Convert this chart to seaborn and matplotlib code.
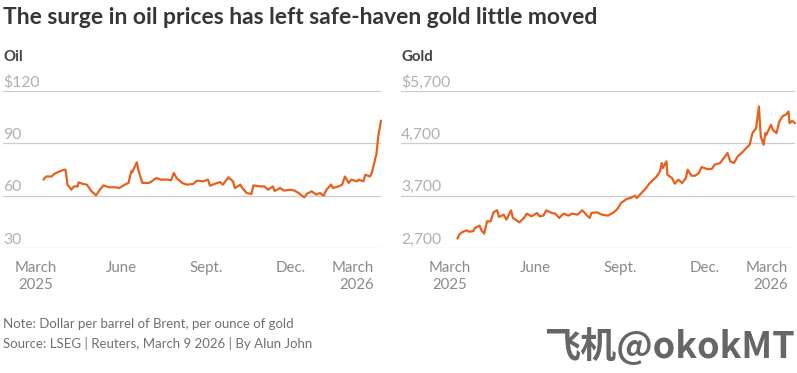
import matplotlib
matplotlib.use("Agg")
import matplotlib.pyplot as plt
import seaborn as sns
import pandas as pd

# ---------------- data ----------------
oil_dates = ["2025-03-09","2025-03-12","2025-03-18","2025-03-21","2025-03-27","2025-04-01","2025-04-02",
             "2025-04-04","2025-04-07","2025-04-08","2025-04-11","2025-04-15","2025-04-16","2025-04-21",
             "2025-04-25","2025-04-30","2025-05-05","2025-05-09","2025-05-13","2025-05-19","2025-05-26",
             "2025-05-30","2025-06-05","2025-06-09","2025-06-12","2025-06-13","2025-06-18","2025-06-20",
             "2025-06-24","2025-07-01","2025-07-04","2025-07-09","2025-07-14","2025-07-21","2025-07-25",
             "2025-07-28","2025-07-31","2025-08-06","2025-08-11","2025-08-18","2025-08-22","2025-08-29",
             "2025-09-03","2025-09-05","2025-09-10","2025-09-16","2025-09-19","2025-09-25","2025-09-30",
             "2025-10-02","2025-10-08","2025-10-10","2025-10-15","2025-10-20","2025-10-22","2025-10-29",
             "2025-11-03","2025-11-07","2025-11-12","2025-11-14","2025-11-20","2025-11-24","2025-12-01",
             "2025-12-05","2025-12-10","2025-12-16","2025-12-19","2025-12-24","2025-12-29","2026-01-02",
             "2026-01-06","2026-01-09","2026-01-14","2026-01-16","2026-01-22","2026-01-26","2026-01-29",
             "2026-02-02","2026-02-05","2026-02-11","2026-02-13","2026-02-18","2026-02-20","2026-02-25",
             "2026-02-27","2026-03-03","2026-03-04","2026-03-06","2026-03-09"]
oil_values = [69.2, 71.0, 71.0, 72.6, 74.0, 75.0, 74.6,
              66.3, 64.4, 63.4, 65.3, 65.3, 67.6, 66.7,
              66.3, 62.5, 60.2, 63.4, 65.9, 64.8, 64.8,
              64.4, 66.3, 67.3, 74.0, 73.4, 79.1, 74.0,
              67.3, 67.3, 68.2, 70.1, 69.2, 69.2, 68.8,
              73.0, 70.1, 67.3, 66.3, 66.7, 68.6, 68.2,
              69.2, 65.7, 66.7, 67.8, 66.3, 70.5, 68.2,
              64.4, 66.3, 64.4, 61.5, 61.0, 65.9, 65.3,
              65.3, 63.4, 65.3, 62.7, 64.4, 62.9, 63.4,
              63.0, 61.5, 59.0, 61.1, 62.5, 60.6, 61.5,
              60.0, 63.4, 66.3, 64.4, 65.3, 66.3, 71.0,
              67.3, 69.2, 68.2, 69.2, 68.2, 72.0, 71.0,
              73.0, 81.6, 83.5, 94.0, 103.0]

gold_dates = ["2025-03-09","2025-03-11","2025-03-14","2025-03-19","2025-03-21","2025-03-26","2025-03-28",
              "2025-04-02","2025-04-04","2025-04-07","2025-04-10","2025-04-14","2025-04-17","2025-04-21",
              "2025-04-23","2025-04-28","2025-05-01","2025-05-06","2025-05-08","2025-05-15","2025-05-20",
              "2025-05-23","2025-05-28","2025-06-03","2025-06-06","2025-06-10","2025-06-13","2025-06-19",
              "2025-06-23","2025-06-27","2025-07-02","2025-07-07","2025-07-11","2025-07-17","2025-07-22",
              "2025-07-28","2025-07-30","2025-08-01","2025-08-07","2025-08-12","2025-08-19","2025-08-25",
              "2025-08-29","2025-09-02","2025-09-08","2025-09-12","2025-09-17","2025-09-19","2025-09-24",
              "2025-09-29","2025-10-03","2025-10-10","2025-10-14","2025-10-16","2025-10-17","2025-10-21",
              "2025-10-22","2025-10-27","2025-10-30","2025-11-03","2025-11-07","2025-11-11","2025-11-13",
              "2025-11-17","2025-11-21","2025-11-25","2025-11-28","2025-12-04","2025-12-09","2025-12-12",
              "2025-12-18","2025-12-22","2025-12-26","2025-12-29","2026-01-02","2026-01-06","2026-01-12",
              "2026-01-16","2026-01-19","2026-01-22","2026-01-26","2026-01-29","2026-01-31","2026-02-03",
              "2026-02-05","2026-02-06","2026-02-11","2026-02-13","2026-02-17","2026-02-20","2026-02-24",
              "2026-02-27","2026-03-02","2026-03-03","2026-03-06","2026-03-09"]
gold_values = [2880, 2956, 3001, 3039, 3013, 3020, 3083,
               3128, 3039, 2975, 3210, 3210, 3382, 3420,
               3293, 3338, 3242, 3420, 3274, 3191, 3274,
               3357, 3306, 3369, 3306, 3319, 3420, 3369,
               3357, 3274, 3357, 3319, 3357, 3338, 3420,
               3306, 3274, 3369, 3382, 3338, 3319, 3382,
               3446, 3560, 3636, 3655, 3700, 3655, 3751,
               3846, 3942, 4056, 4164, 4323, 4228, 4355,
               4100, 4037, 3929, 4005, 3942, 4037, 4196,
               4081, 4081, 4132, 4247, 4209, 4209, 4291,
               4323, 4418, 4514, 4355, 4323, 4450, 4545,
               4622, 4673, 4895, 4990, 5404, 4832, 4673,
               4895, 4863, 5054, 4959, 4895, 5118, 5226,
               5245, 5308, 5086, 5130, 5086]

tick_dates = ["2025-03-01", "2025-06-01", "2025-09-01", "2025-12-01", "2026-03-01"]
tick_labels = ["March\n2025", "June", "Sept.", "Dec.", "March\n2026"]

oil_yticks = [30, 60, 90, 120]
oil_ylabels = ["30", "60", "90", "$120"]
gold_yticks = [2700, 3700, 4700, 5700]
gold_ylabels = ["2,700", "3,700", "4,700", "$5,700"]

title = "The surge in oil prices has left safe-haven gold little moved"
note = "Note: Dollar per barrel of Brent, per ounce of gold"
source = "Source: LSEG | Reuters, March 9 2026 | By Alun John"
watermark = "飞机@okokMT"

# ---------------- style ----------------
sns.set_theme(style="white")
plt.rcParams["font.family"] = ["Lato", "DejaVu Sans"]

LINE = "#e8601c"
GRID = "#cccccc"
YLAB = "#b0b0b0"
XLAB = "#8a8a8a"

W, H = 797, 373
fig = plt.figure(figsize=(W / 100, H / 100), dpi=100)
fig.patch.set_facecolor("white")

def px_axes(x0, x1, ytop, ybot):
    return fig.add_axes([x0 / W, 1 - ybot / H, (x1 - x0) / W, (ybot - ytop) / H])

oil_df = pd.DataFrame({"date": pd.to_datetime(oil_dates), "value": oil_values})
gold_df = pd.DataFrame({"date": pd.to_datetime(gold_dates), "value": gold_values})

ppd = 345 / 373.0  # pixels per day (layout)

def draw(ax, df, yticks, ylabels, x0px, ref_px):
    sns.lineplot(data=df, x="date", y="value", ax=ax, color=LINE, linewidth=1.6,
                 clip_on=False, solid_joinstyle="round")
    t0 = pd.Timestamp("2025-03-01")
    end = pd.Timestamp("2026-03-09")
    left = t0 - pd.Timedelta(days=(ref_px - x0px) / ppd)
    ax.set_xlim(left, end)
    ax.set_ylim(yticks[0], yticks[-1])
    ax.set_yticks(yticks)
    ax.set_yticklabels([])
    ax.tick_params(axis="y", length=0)
    for v in yticks:
        ax.axhline(v, color=GRID, linewidth=0.9, zorder=0)
    for v, lab in zip(yticks, ylabels):
        ax.annotate(lab, xy=(0, v), xycoords=("axes fraction", "data"),
                    xytext=(0, 3.2), textcoords="offset points",
                    ha="left", va="baseline", fontsize=11.3, color=YLAB)
    ax.set_xticks(pd.to_datetime(tick_dates))
    labs = ax.set_xticklabels(tick_labels, fontsize=10.8, color=XLAB, linespacing=1.3)
    labs[-1].set_ha("right")
    ax.tick_params(axis="x", length=0, pad=9.5)
    ax.set_xlabel("")
    ax.set_ylabel("")
    for s in ax.spines.values():
        s.set_visible(False)
    ax.set_facecolor("none")

ax1 = px_axes(3, 381, 91, 248)
draw(ax1, oil_df, oil_yticks, oil_ylabels, 3, 36)
ax2 = px_axes(401, 795, 91, 248)
draw(ax2, gold_df, gold_yticks, gold_ylabels, 401, 450)

fig.text(3 / W, 1 - 18 / H, title, fontsize=16.5, fontweight="bold", color="#363636",
         ha="left", va="center")
fig.text(3 / W, 1 - 57 / H, "Oil", fontsize=10.8, fontweight="bold", color="#444444",
         ha="left", va="center")
fig.text(401 / W, 1 - 57 / H, "Gold", fontsize=10.8, fontweight="bold", color="#444444",
         ha="left", va="center")
fig.text(3 / W, 1 - 324 / H, note, fontsize=9.5, color="#707070", ha="left", va="center")
fig.text(3 / W, 1 - 343 / H, source, fontsize=9.5, color="#707070", ha="left", va="center")
fig.text(795 / W, 1 - 347 / H, watermark, fontsize=26, fontweight="bold", color="#666666",
         ha="right", va="center", family=["Noto Sans CJK SC", "DejaVu Sans"])

fig.savefig("out.png", dpi=100, facecolor="white")
